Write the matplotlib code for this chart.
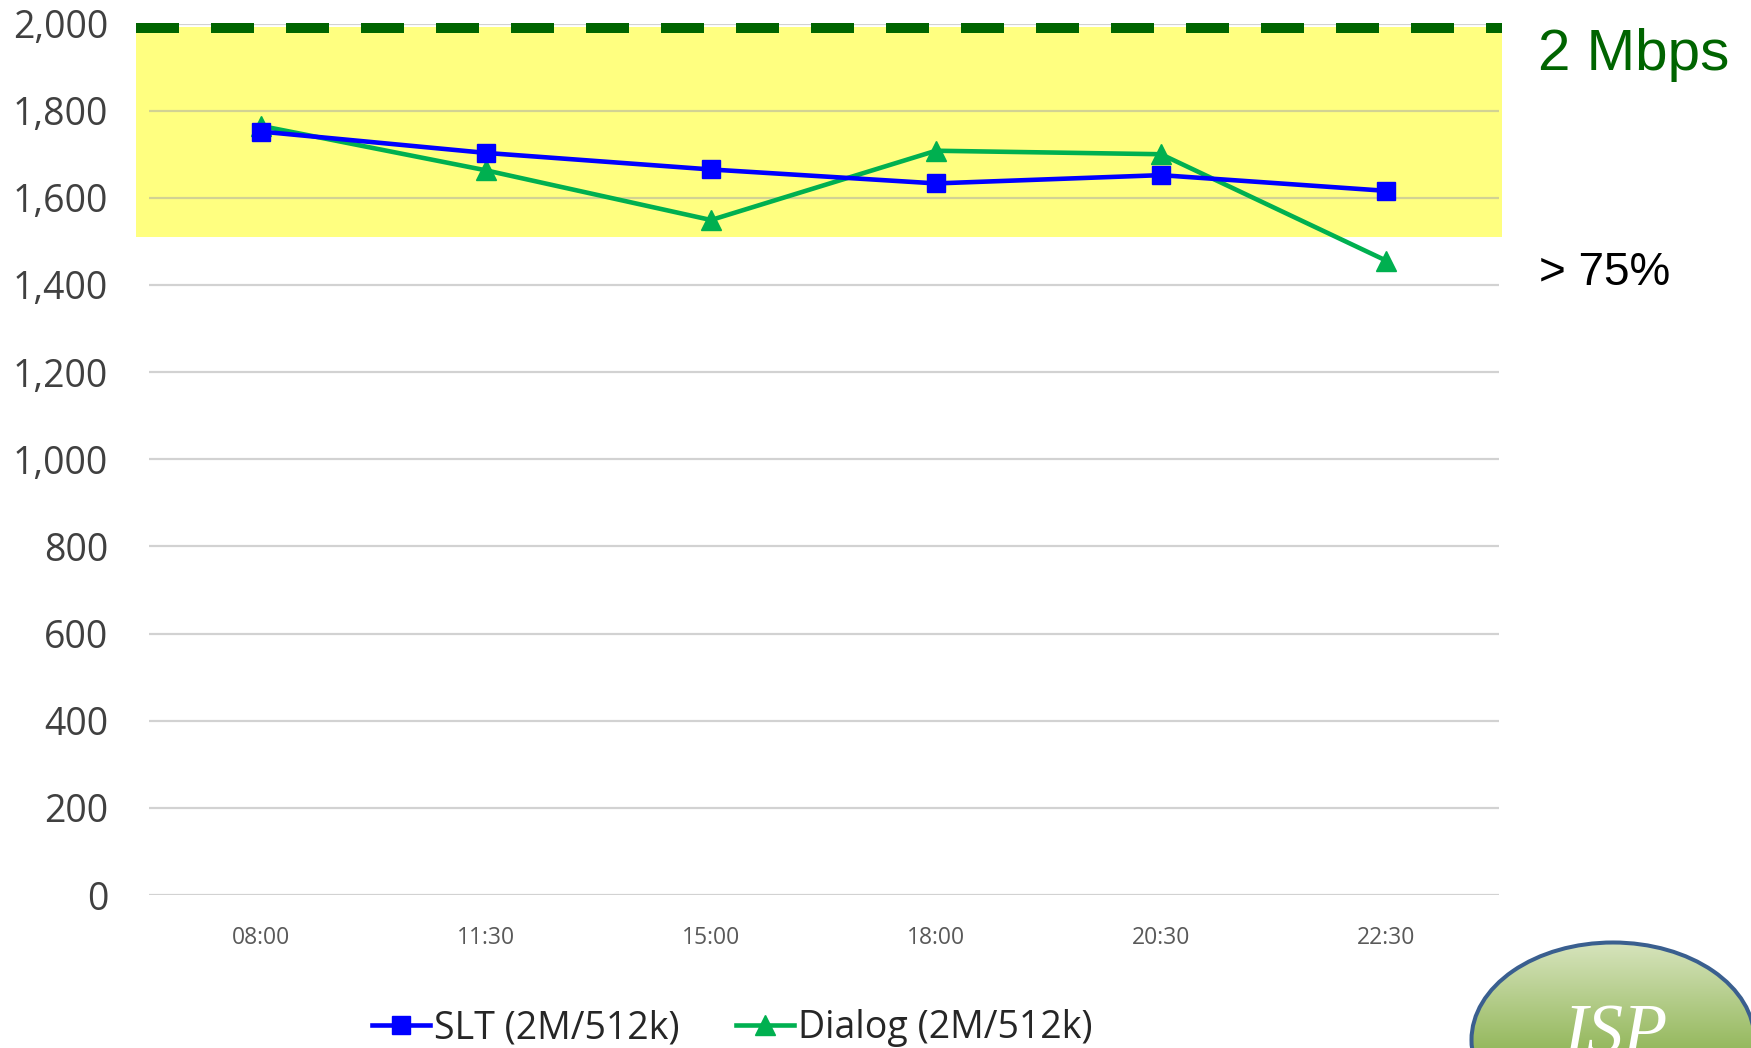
import numpy as np
import matplotlib
matplotlib.use("Agg")
import matplotlib.pyplot as plt
from matplotlib.patches import Rectangle, Ellipse
from matplotlib.ticker import FuncFormatter

# data (kbps)
times = ["08:00", "11:30", "15:00", "18:00", "20:30", "22:30"]
slt = [1752, 1703, 1665, 1633, 1652, 1616]
dialog = [1765, 1663, 1549, 1708, 1700, 1456]
target = 2000      # 2 Mbps line
band_low = 1510    # > 75% band

W, H = 1751, 1048
fig = plt.figure(figsize=(W / 100, H / 100), dpi=100)
ax = fig.add_axes([148.5 / W, (H - 895) / H, 1350 / W, 871.5 / H])

x = np.arange(len(times))

# yellow "> 75%" band and dashed target line
ax.add_patch(Rectangle((-0.556, band_low), 6.072, target - 8 - band_low,
                       facecolor="#ffff80", edgecolor="none", zorder=0, clip_on=False))
ax.plot([-0.556, 5.516], [target - 11, target - 11], color="#006400", lw=7.2,
        dashes=(4.3, 3.2), solid_capstyle="butt", dash_capstyle="butt",
        zorder=3, clip_on=False)

ax.plot(x, slt, color="#0000ff", lw=3.3, marker="s", markersize=13.5,
        label="SLT (2M/512k)", zorder=5, clip_on=False)
ax.plot(x, dialog, color="#00b050", lw=3.3, marker="^", markersize=14,
        label="Dialog (2M/512k)", zorder=4, clip_on=False)

ax.set_xlim(-0.5, 5.5)
ax.set_ylim(0, 2000)
ax.set_yticks(range(0, 2001, 200))
ax.yaxis.set_major_formatter(FuncFormatter(lambda v, p: f"{int(v):,}"))
ax.set_xticks(x)
ax.set_xticklabels(times)
ax.grid(axis="y", color="#a6a6a6", alpha=0.5, lw=1.6, zorder=1)
ax.set_axisbelow(False)
for s in ax.spines.values():
    s.set_visible(False)
ax.tick_params(axis="y", length=0, pad=29, labelsize=27, labelcolor="#404040")
ax.tick_params(axis="x", length=0, pad=22, labelsize=16.5, labelcolor="#595959")
for lab in ax.get_yticklabels() + ax.get_xticklabels():
    lab.set_fontfamily("Open Sans")

fig.legend(loc="center", bbox_to_anchor=(732 / W, 1 - 1028 / H), ncol=2,
           frameon=False, handlelength=1.55, handletextpad=0.1, columnspacing=1.5,
           prop={"family": "Open Sans", "size": 27}, labelcolor="#262626")

fig.text(1538 / W, 1 - 70 / H, "2 Mbps", color="#006400", fontsize=42,
         family="Liberation Sans", va="baseline", ha="left")
fig.text(1539 / W, 1 - 285 / H, "> 75%", color="black", fontsize=33,
         family="Liberation Sans", va="baseline", ha="left")

# ISP bubble in the corner (cut by the page edge, as in the original)
ov = fig.add_axes([0, 0, 1, 1], facecolor="none")
ov.set_xlim(0, W)
ov.set_ylim(H, 0)
ov.axis("off")
ell = Ellipse((1613, 1040), 283, 195, facecolor="none", edgecolor="#3a5f8f",
              lw=2.9, zorder=3)
ov.add_patch(ell)
grad = np.linspace(0, 1, 256).reshape(-1, 1)
top = np.array([215, 228, 189]) / 255
bot = np.array([150, 185, 95]) / 255
img = top + (bot - top) * grad[:, :, None]
im = ov.imshow(img, extent=(1470, 1756, 1048, 942), aspect="auto", zorder=2)
im.set_clip_path(ell)
ov.text(1615, 1053, "ISP", color="white", fontsize=52, family="Liberation Serif",
        style="italic", ha="center", va="baseline", zorder=4)
ov.set_xlim(0, W)
ov.set_ylim(H, 0)

fig.savefig("out.png", dpi=100)
